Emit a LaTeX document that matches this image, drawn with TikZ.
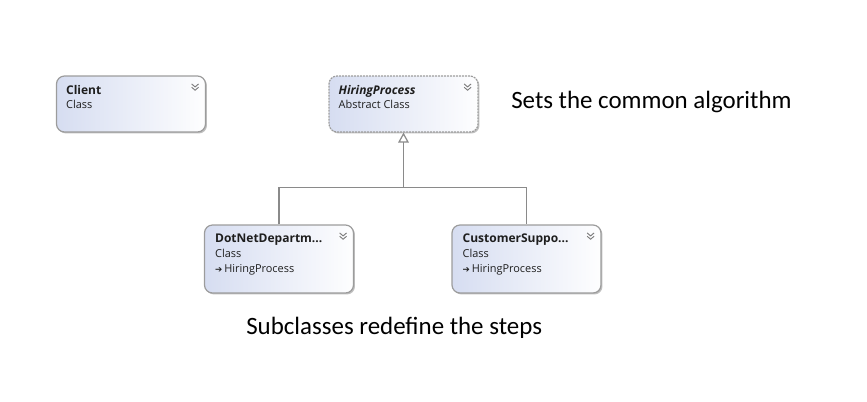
\documentclass[tikz,border=0pt]{standalone}
\usepackage{fontspec}
\setmainfont{Carlito}
\newfontfamily\uifont{Open Sans}
\newfontfamily\symfont{DejaVu Sans}
\usetikzlibrary{arrows.meta,shadows,calc}
\definecolor{boxblue}{HTML}{D6DDF1}
\definecolor{boxline}{HTML}{9C9C9C}
\definecolor{connline}{HTML}{8A8A8A}
\definecolor{uitext}{HTML}{1E1E1E}
\tikzset{
  classbox/.style={draw=boxline, line width=0.9pt, rounded corners=6pt,
    left color=boxblue, right color=white!97!boxblue,
    minimum width=111.75pt, inner sep=0pt,
    drop shadow={shadow xshift=1.1pt, shadow yshift=-1.1pt, opacity=0.45, fill=black!55}},
  abstractbox/.style={classbox, dash pattern=on 1.5pt off 0.75pt},
  classname/.style={font=\uifont\bfseries\fontsize{9}{10}\selectfont, text=uitext, anchor=base west, inner sep=0pt},
  classkind/.style={font=\uifont\fontsize{8.2}{10}\selectfont, text=uitext, anchor=base west, inner sep=0pt},
  inheritline/.style={draw=connline, line width=0.9pt},
  note/.style={font=\fontsize{18.7}{22}\selectfont, anchor=west, inner sep=0pt},
  chevron/.pic={
    \draw[boxline!80!black, line width=0.7pt] (-3.5,-2.5) -- (0,0.5) -- (3.5,-2.5);
    \draw[boxline!80!black, line width=0.7pt] (-3.5,0.8) -- (0,3.8) -- (3.5,0.8);
  }
}
\newcommand\baseclass{{\symfont\fontsize{6.5}{8}\selectfont ➔}\,HiringProcess}
\begin{document}
\begin{tikzpicture}[x=0.75pt, y=-0.75pt]
	\useasboundingbox (0,0) rectangle (867,401);
	% class boxes
	\node[classbox, minimum height=42pt] (client) at (131,104) {};
	\node[abstractbox, minimum height=42pt] (hiring) at (403.5,104) {};
	\node[classbox, minimum height=51pt] (dotnet) at (279,259) {};
	\node[classbox, minimum height=51pt] (custsup) at (526.5,259) {};
	% texts in the boxes
	\node[classname] (clientname) at ($(client.north west)+(10,19)$) {Client};
	\node[classkind] (clientkind) at ($(client.north west)+(10,33)$) {Class};
	\node[classname, font=\uifont\bfseries\itshape\fontsize{9}{10}\selectfont] (hiringname) at ($(hiring.north west)+(10,19)$) {HiringProcess};
	\node[classkind] (hiringkind) at ($(hiring.north west)+(10,33)$) {Abstract Class};
	\node[classname] (dotnetname) at ($(dotnet.north west)+(11,18)$) {DotNetDepartm...};
	\node[classkind] (dotnetkind) at ($(dotnet.north west)+(11,33)$) {Class};
	\node[classkind] (dotnetbase) at ($(dotnet.north west)+(11,48)$) {\baseclass};
	\node[classname] (custsupname) at ($(custsup.north west)+(11,18)$) {CustomerSuppo...};
	\node[classkind] (custsupkind) at ($(custsup.north west)+(11,33)$) {Class};
	\node[classkind] (custsupbase) at ($(custsup.north west)+(11,48)$) {\baseclass};
	\pic at ($(client.north east)+(-11,11)$) {chevron};
	\pic at ($(hiring.north east)+(-11,11)$) {chevron};
	\pic at ($(dotnet.north east)+(-11,11)$) {chevron};
	\pic at ($(custsup.north east)+(-11,11)$) {chevron};
	% inheritance
	\draw[inheritline, {Triangle[open, fill=white, length=7.5pt, width=8pt]}-] (hiring.south) -- ++(0,55) coordinate (fork);
	\draw[inheritline] (dotnet.north) |- (fork) -| (custsup.north);
	% notes
	\node[note] (algo) at (511,102) {Sets the common algorithm};
	\node[note] (steps) at (246,328) {Subclasses redefine the steps};
\end{tikzpicture}
\end{document}
